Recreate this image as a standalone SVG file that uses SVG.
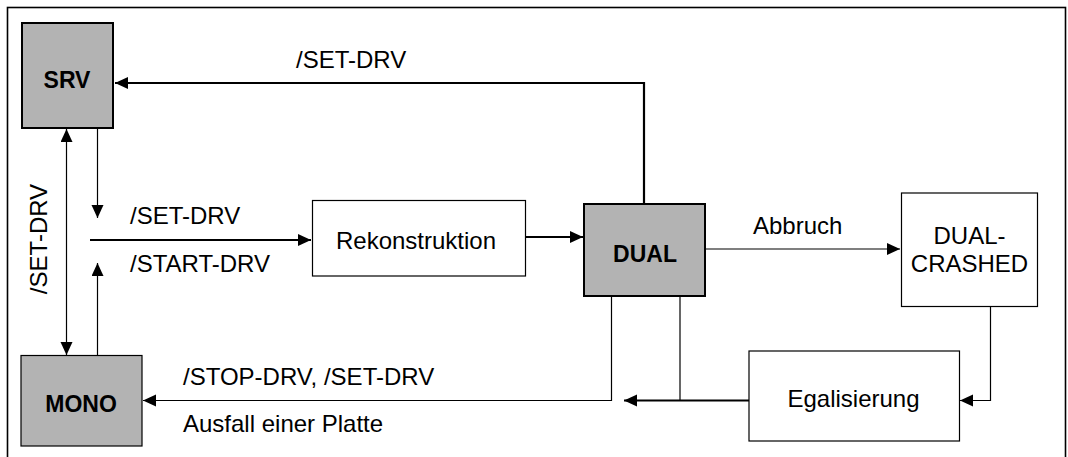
<svg xmlns="http://www.w3.org/2000/svg" width="1068" height="457" viewBox="0 0 1068 457">
<style>
text{font-family:"Liberation Sans",Arial,sans-serif;font-size:24px;fill:#000}
.b{font-weight:bold;font-size:23px}
.g{fill:#b3b3b3;stroke:#000;stroke-width:2}
.w{fill:#fff;stroke:#000;stroke-width:1.2}
.thin{fill:none;stroke:#000;stroke-width:1.2}
.thick{fill:none;stroke:#000;stroke-width:2.2}
</style>
<defs>
<marker id="ah" markerUnits="userSpaceOnUse" markerWidth="14" markerHeight="13" refX="13" refY="6" orient="auto-start-reverse">
<path d="M0,0 L13,6 L0,12 z" fill="#000"/>
</marker>
</defs>
<rect x="7.5" y="7.5" width="1058" height="470" fill="#fff" stroke="#000" stroke-width="1.6"/>
<g id="SRV"><rect class="g" x="22" y="23" width="91" height="105"/><text class="b" x="67" y="88" text-anchor="middle">SRV</text></g>
<g id="MONO"><rect class="w" style="fill:#b3b3b3" x="21" y="355.5" width="121" height="90.5"/><text class="b" x="81" y="412" text-anchor="middle">MONO</text></g>
<g id="Rekonstruktion"><rect class="w" x="312.5" y="200.5" width="213" height="75.5"/><text x="416" y="248.5" text-anchor="middle">Rekonstruktion</text></g>
<g id="DUAL"><rect class="g" x="584" y="204" width="121" height="92"/><text class="b" x="645" y="262" text-anchor="middle">DUAL</text></g>
<g id="DUAL-CRASHED"><rect class="w" x="901.5" y="193" width="136" height="113.5"/><text x="969.5" y="244" text-anchor="middle">DUAL-</text><text x="969.5" y="272" text-anchor="middle">CRASHED</text></g>
<g id="Egalisierung"><rect class="w" x="749" y="351" width="210.5" height="90"/><text x="853.5" y="406.5" text-anchor="middle">Egalisierung</text></g>
<g id="connectors">
<path class="thick" d="M644,204 V83 H115" marker-end="url(#ah)"/>
<line class="thin" x1="66.5" y1="129" x2="66.5" y2="355" marker-start="url(#ah)" marker-end="url(#ah)"/>
<line class="thin" x1="97.5" y1="128" x2="97.5" y2="218" marker-end="url(#ah)"/>
<line class="thin" x1="97.5" y1="355.5" x2="97.5" y2="263" marker-end="url(#ah)"/>
<line class="thick" x1="90" y1="240" x2="311" y2="240" marker-end="url(#ah)"/>
<line class="thick" x1="525.5" y1="237" x2="583" y2="237" marker-end="url(#ah)"/>
<line class="thin" x1="705" y1="249" x2="900" y2="249" marker-end="url(#ah)"/>
<path class="thin" d="M990.5,306.5 V400.5 H960" marker-end="url(#ah)"/>
<line class="thick" x1="749" y1="400.5" x2="624" y2="400.5" marker-end="url(#ah)"/>
<line class="thin" x1="680" y1="296" x2="680" y2="400.5"/>
<path class="thin" d="M611.5,296 V400.5 H143" marker-end="url(#ah)"/>
<text x="296" y="68">/SET-DRV</text>
<text x="130" y="224">/SET-DRV</text>
<text x="130" y="272">/START-DRV</text>
<text x="753" y="234">Abbruch</text>
<text x="183" y="385">/STOP-DRV, /SET-DRV</text>
<text x="183" y="431.5">Ausfall einer Platte</text>
<text x="47" y="239" text-anchor="middle" transform="rotate(-90 47 239)">/SET-DRV</text>
</g>
</svg>
